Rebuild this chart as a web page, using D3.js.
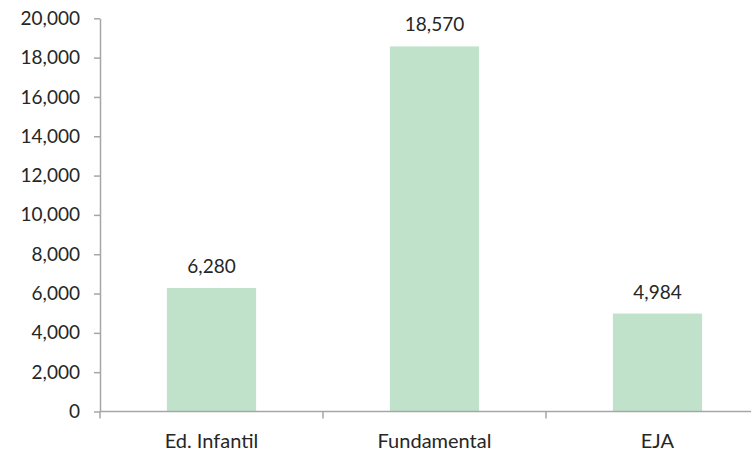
<!DOCTYPE html>
<html><head><meta charset="utf-8">
<script src="https://cdn.jsdelivr.net/npm/d3@7"></script>
<style>body{margin:0;background:#fff}svg{display:block}</style>
</head><body>
<script>
const categories = ["Ed. Infantil", "Fundamental", "EJA"];
const values = [6280, 18570, 4984];
const yTicks = [0, 2000, 4000, 6000, 8000, 10000, 12000, 14000, 16000, 18000, 20000];

(function () {
const W = 751, H = 451;
const svg = d3.select("body").append("svg").attr("width", W).attr("height", H);
const mLeft = 100, mRight = 769, mTop = 18.3, mBottom = 411.5;
const x = d3.scaleBand().domain(categories).range([mLeft, mRight]).paddingInner(0.6).paddingOuter(0.3);
const xb = d3.scaleBand().domain(categories).range([mLeft, mRight]);
const y = d3.scaleLinear().domain([0, 20000]).range([mBottom, mTop]);
const font = "Lato, 'Open Sans', sans-serif";
const axisColor = "#a6a6a6";
const textColor = "#262626";

svg.selectAll("rect.bar").data(values).join("rect")
  .attr("x", (d, i) => x(categories[i]))
  .attr("width", x.bandwidth())
  .attr("y", d => y(d))
  .attr("height", d => y(0) - y(d))
  .attr("fill", "#c0e2cb");

svg.selectAll("text.val").data(values).join("text")
  .attr("x", (d, i) => x(categories[i]) + x.bandwidth() / 2)
  .attr("y", d => y(d) - 15)
  .attr("text-anchor", "middle")
  .attr("font-family", font).attr("font-size", 19).attr("fill", textColor)
  .text(d => d3.format(",")(d));

const ya = svg.append("g").attr("transform", `translate(${mLeft},0)`)
  .call(d3.axisLeft(y).tickValues(yTicks).tickFormat(d3.format(",")).tickSize(6).tickPadding(14).tickSizeOuter(0));
ya.select(".domain").attr("stroke", axisColor).attr("stroke-width", 1.5);
ya.selectAll(".tick line").attr("stroke", axisColor).attr("stroke-width", 1.5);
ya.selectAll("text").attr("font-family", font).attr("font-size", 19).attr("fill", textColor);

const xa = svg.append("g").attr("transform", `translate(0,${mBottom})`);
xa.append("line").attr("x1", mLeft).attr("x2", mRight).attr("y1", 0).attr("y2", 0)
  .attr("stroke", axisColor).attr("stroke-width", 1.5);
const bounds = categories.map(c => xb(c)).concat([xb(categories[categories.length - 1]) + xb.bandwidth()]);
xa.selectAll("line.tk").data(bounds).join("line")
  .attr("x1", d => d).attr("x2", d => d).attr("y1", 0).attr("y2", 7)
  .attr("stroke", axisColor).attr("stroke-width", 1.5);
xa.selectAll("text").data(categories).join("text")
  .attr("x", d => xb(d) + xb.bandwidth() / 2)
  .attr("y", 36)
  .attr("text-anchor", "middle")
  .attr("font-family", font).attr("font-size", 20).attr("fill", textColor)
  .text(d => d);
})();
</script>
</body></html>
